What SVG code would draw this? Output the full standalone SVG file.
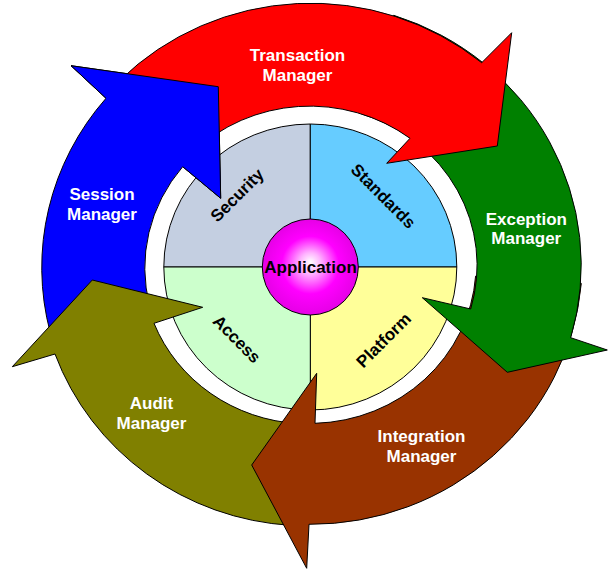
<svg xmlns="http://www.w3.org/2000/svg" width="608" height="569" viewBox="0 0 608 569">
  <defs>
    <radialGradient id="appGrad" cx="50%" cy="50%" r="50%" fx="50%" fy="45%">
      <stop offset="0" stop-color="#FFFFFF"/>
      <stop offset="0.22" stop-color="#FFB3FF"/>
      <stop offset="0.6" stop-color="#FF00FF"/>
      <stop offset="1" stop-color="#E600E6"/>
    </radialGradient>
  </defs>
  <style>
    .arrow { stroke: #000; stroke-width: 1; stroke-linejoin: miter; }
    .edge { fill: none; stroke: #000; stroke-width: 1; stroke-linejoin: miter; }
    .quad { stroke: #000; stroke-width: 1; }
    .wl { font-family: "Liberation Sans", Arial, sans-serif; font-weight: bold; font-size: 17px; fill: #FFFFFF; text-anchor: middle; }
    .bl { font-family: "Liberation Sans", Arial, sans-serif; font-weight: bold; font-size: 17px; fill: #000000; text-anchor: middle; }
  </style>
  <rect x="0" y="0" width="608" height="569" fill="#FFFFFF"/>

  <g id="core">
    <g id="security">
      <path class="quad" fill="#C4CFE1" d="M310.3 267 L163.8 267 A146.5 143 0 0 1 310.3 124 Z"/>
      <text class="bl" transform="translate(237,195) rotate(-45)" x="0" y="6">Security</text>
    </g>
    <g id="standards">
      <path class="quad" fill="#66CCFF" d="M310.3 267 L310.3 124 A146.5 143 0 0 1 456.8 267 Z"/>
      <text class="bl" transform="translate(383.5,196) rotate(45)" x="0" y="6">Standards</text>
    </g>
    <g id="platform">
      <path class="quad" fill="#FFFF99" d="M310.3 267 L456.8 267 A146.5 143 0 0 1 310.3 410 Z"/>
      <text class="bl" transform="translate(383.5,340) rotate(-45)" x="0" y="6">Platform</text>
    </g>
    <g id="access">
      <path class="quad" fill="#CCFFCC" d="M310.3 267 L310.3 410 A146.5 143 0 0 1 163.8 267 Z"/>
      <text class="bl" transform="translate(237,339) rotate(45)" x="0" y="6">Access</text>
    </g>
    <g id="application">
      <circle cx="310.3" cy="267" r="48" fill="url(#appGrad)" stroke="#000" stroke-width="1"/>
      <text class="bl" x="310.5" y="273">Application</text>
    </g>
  </g>

  <g id="connectors">
    <g id="session-manager">
      <path class="arrow" fill="#0000FF" d="M50.2 332.5 A269 261 0 0 1 106 98.3 L71 65.7 L218.3 86.7 L220.7 198.3 L182.7 166.7 A166 159 0 0 0 149.7 306.2 Z"/>
      <text class="wl" x="102" y="199.5">Session</text>
      <text class="wl" x="102" y="219.5">Manager</text>
    </g>
    <g id="audit-manager">
      <path class="arrow" fill="#808000" d="M291.2 525.4 A269 261 0 0 1 55 354 L12.3 366.7 L92.3 280 L202.7 307.3 L154 323.3 A166 159 0 0 0 298.4 423.6 Z"/>
      <text class="wl" x="151.5" y="409">Audit</text>
      <text class="wl" x="151.5" y="428.5">Manager</text>
    </g>
    <g id="integration-manager">
      <path class="arrow" fill="#993300" d="M581.3 283.4 A272 264 0 0 1 309 524.3 L306.7 568.3 L251.7 465 L316.7 373.3 L315 423.3 A166 159 0 0 0 475.6 276.1 Z"/>
      <text class="wl" x="421.5" y="442.3">Integration</text>
      <text class="wl" x="421.5" y="462">Manager</text>
    </g>
    <g id="exception-manager">
      <path class="arrow" fill="#008000" d="M393.7 15.3 A270.5 262.5 0 0 1 570.7 337.7 L607.3 350 L507.3 372.3 L422.3 297.7 L470.7 309 A166 159 0 0 0 361.3 113.8 Z"/>
      <text class="wl" x="526.3" y="224.5">Exception</text>
      <text class="wl" x="526.3" y="244">Manager</text>
    </g>
    <g id="transaction-manager">
      <path class="arrow" fill="#FF0000" d="M119.8 80.4 A269 261 0 0 1 481.7 62.7 L511.7 32.7 L497.3 146 L386.7 163.3 L410 138.3 A166 159 0 0 0 192.6 152.6 Z"/>
      <text class="wl" x="297.5" y="60.5">Transaction</text>
      <text class="wl" x="297.5" y="80.5">Manager</text>
    </g>
    <g id="session-manager-head">
      <path fill="#0000FF" d="M106 98.3 L71 65.7 L218.3 86.7 L220.7 198.3 L182.7 166.7 Z"/>
      <path class="edge" d="M106 98.3 L71 65.7 L218.3 86.7 L220.7 198.3 L182.7 166.7"/>
    </g>
  </g>
</svg>
